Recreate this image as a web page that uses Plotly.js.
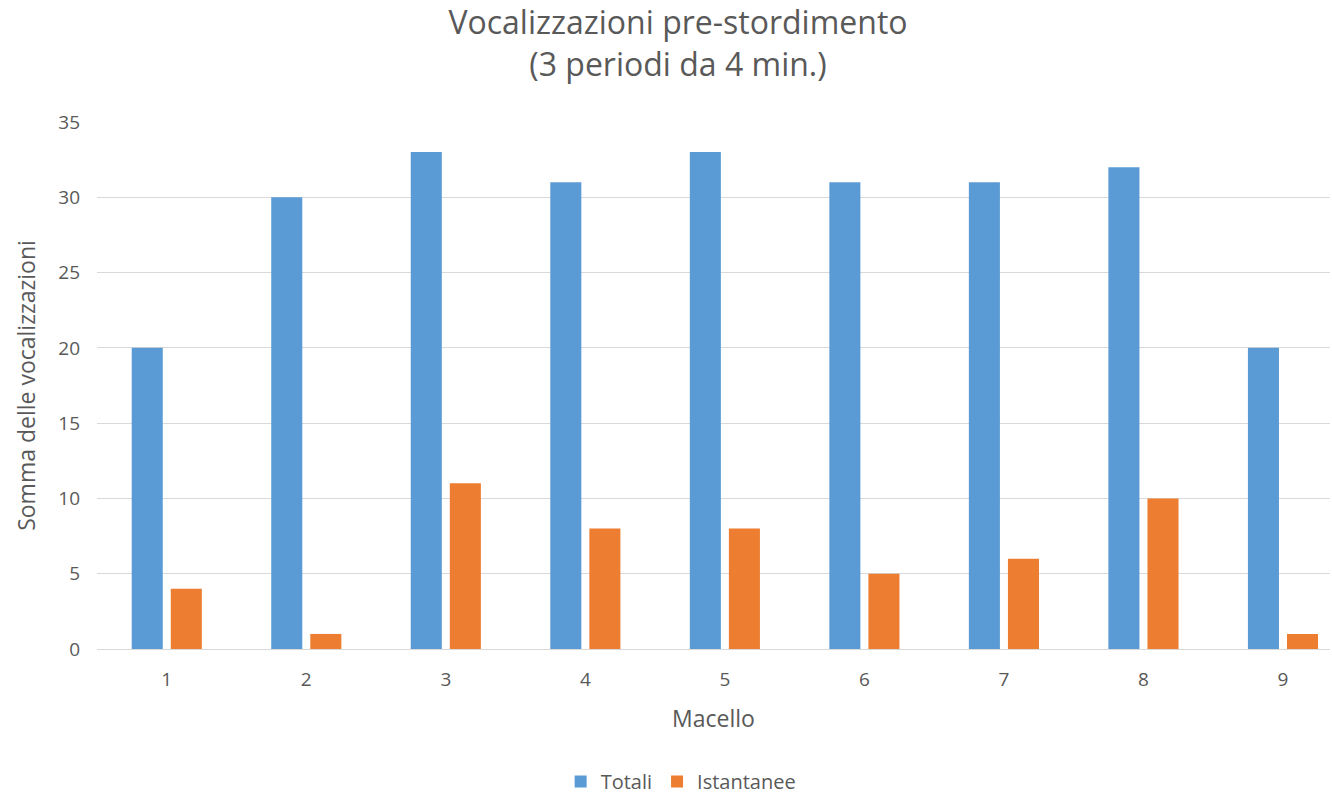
<!DOCTYPE html>
<html><head><meta charset="utf-8">
<script src="https://cdn.plot.ly/plotly-3.0.1.min.js"></script>
<style>html,body{margin:0;padding:0;background:#fff}#c{width:1332px;height:801px}</style>
</head><body><div id="c"></div>
<script>
var categories = [1,2,3,4,5,6,7,8,9];
var totali = [20,30,33,31,33,31,31,32,20];
var istantanee = [4,1,11,8,8,5,6,10,1];
var seriesNames = ["Totali","Istantanee"];
var font = "Open Sans, Liberation Sans, sans-serif";
var traces = [
 {type:"bar", x:categories, y:totali, name:seriesNames[0], marker:{color:"#5B9BD5"}},
 {type:"bar", x:categories, y:istantanee, name:seriesNames[1], marker:{color:"#ED7D31"}}
];
var layout = {
 width:1332, height:801,
 margin:{l:97, r:2, t:122, b:152, autoexpand:false},
 paper_bgcolor:"#fff", plot_bgcolor:"#fff",
 font:{family:font, color:"#595959", size:18},
 title:{text:"Vocalizzazioni pre-stordimento<br>(3 periodi da 4 min.)", font:{size:32, color:"#595959", family:font}, x:0.509, xanchor:"center", xref:"container", yref:"container", y:0.957, yanchor:"middle"},
 barmode:"group", bargap:0.44, bargroupgap:0.205,
 xaxis:{range:[0.5,9.337], tickmode:"array", tickvals:categories, ticktext:categories.map(String), showgrid:false, zeroline:false, showline:true, linecolor:"#D9D9D9", ticks:"", tickfont:{size:19, color:"#595959"}, ticklabelstandoff:13,
  title:{text:"Macello", font:{size:23, color:"#595959"}, standoff:20}},
 yaxis:{range:[0,35], dtick:5, showgrid:true, gridcolor:"#D9D9D9", zeroline:false, ticks:"", tickfont:{size:19, color:"#595959"}, ticklabelstandoff:16,
  title:{text:"Somma delle vocalizzazioni", font:{size:23, color:"#595959"}, standoff:16}},
 legend:{orientation:"h", xref:"container", x:0.511, xanchor:"center", yref:"container", y:0.0, yanchor:"bottom", font:{size:20, color:"#595959"}, itemwidth:30, tracegroupgap:0},
 showlegend:true
};
Plotly.newPlot("c", traces, layout, {displayModeBar:false, staticPlot:true});
</script></body></html>
